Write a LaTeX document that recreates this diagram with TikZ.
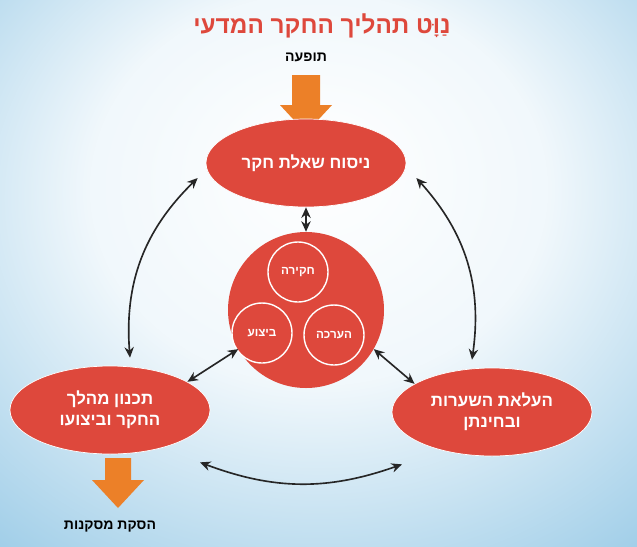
\documentclass[tikz,border=0pt]{standalone}
\usepackage{fontspec}
\newfontfamily\heb[Script=Hebrew]{Liberation Sans}
\TeXXeTstate=1
\usetikzlibrary{shapes.geometric,arrows.meta}
\definecolor{redf}{RGB}{222,72,60}
\definecolor{orng}{RGB}{236,128,40}
\definecolor{bgblue}{RGB}{110,180,220}
\tikzset{
 ell/.style={ellipse,fill=redf,draw=white,line width=0.6pt,minimum width=200*0.03cm,minimum height=88*0.03cm,inner sep=0pt,align=center,text=white,font=\heb\bfseries\Large},
 smallc/.style={circle,draw=white,line width=1.2pt,fill=redf,minimum size=60*0.03cm,inner sep=0pt,text=white,font=\heb\bfseries},
 dbl/.style={{Stealth[length=9pt,width=8pt]}-{Stealth[length=9pt,width=8pt]},line width=1.4pt,black!85},
 lab/.style={font=\heb\bfseries\large},
 oarrow/.style={fill=orng}
}
\pgfdeclareradialshading{bgsh}{\pgfpoint{0bp}{10bp}}{color(0bp)=(white);color(18bp)=(white!90!bgblue);color(45bp)=(bgblue!80);color(62bp)=(bgblue!30);color(78bp)=(white)}
\begin{document}
\begin{tikzpicture}[x=0.03cm,y=-0.03cm]
\useasboundingbox (0,0) rectangle (637,546);
\fill[white] (0,0) rectangle (637,546);
\shade[shading=bgsh] (0,0) rectangle (637,546);
\node[font=\heb\bfseries\huge,text=redf] (title) at (322,26) {\beginR נַוָּט תהליך החקר המדעי\endR};
\node[lab] (phen) at (306,57) {\beginR תופעה\endR};
\fill[oarrow] (292,75) -- (320,75) -- (320,105) -- (332,105) -- (306,133) -- (280,105) -- (292,105) -- cycle;
\fill[oarrow] (105,458) -- (131,458) -- (131,480) -- (144,480) -- (118,508) -- (92,480) -- (105,480) -- cycle;
\node[lab] (concl) at (110,527) {\beginR הסקת מסקנות\endR};
\node[ell] (top) at (306,163) {\beginR ניסוח שאלת חקר\endR};
\node[ell] (left) at (110,410) {\beginR תכנון מהלך\endR\\\beginR החקר וביצועו\endR};
\node[ell] (right) at (492,412) {\beginR העלאת השערות\endR\\\beginR ובחינתן\endR};
\node[circle,fill=redf,minimum size=156*0.03cm,inner sep=0pt] (mid) at (306,310) {};
\node[smallc] (c1) at (298,272) {\beginR חקירה\endR};
\node[smallc] (c2) at (262,333) {\beginR ביצוע\endR};
\node[smallc] (c3) at (334,335) {\beginR הערכה\endR};
\draw[dbl] (top.south) -- (mid.north);
\draw[dbl] (mid.210) -- (left.20);
\draw[dbl] (mid.330) -- (right.160);
\draw[dbl] ([shift={(-8,15)}]top.west) to[bend right=25] ([shift={(20,-8)}]left.north);
\draw[dbl] ([shift={(10,15)}]top.east) to[bend left=25] ([shift={(-20,-8)}]right.north);
\draw[dbl] ([shift={(90,8)}]left.south) to[bend right=20] ([shift={(-90,8)}]right.south);
\end{tikzpicture}
\end{document}
